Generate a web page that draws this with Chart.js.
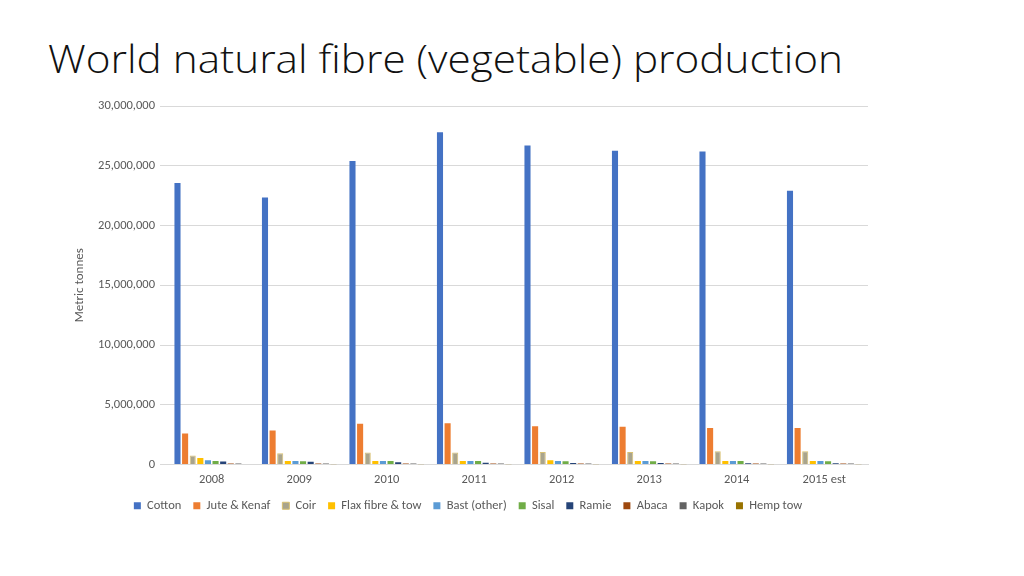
<!DOCTYPE html>
<html>
<head>
<meta charset="utf-8">
<script src="https://cdn.jsdelivr.net/npm/chart.js@4"></script>
<style>
  html, body { margin: 0; padding: 0; background: #fff; }
  #title {
    position: absolute; left: 48px; top: 31px;
    font-family: 'Open Sans', sans-serif; font-weight: 300;
    font-size: 39px; color: #111; white-space: nowrap;
    transform-origin: left top;
  }
  #wrap { position: absolute; left: 0; top: 0; width: 1024px; height: 576px; }
</style>
</head>
<body>
<div id="title">World natural fibre (vegetable) production</div>
<div id="wrap"><canvas id="chart"></canvas></div>
<script>
// ---- data (metric tonnes) ----
const years   = ['2008', '2009', '2010', '2011', '2012', '2013', '2014', '2015 est'];
const cotton  = [23550000, 22350000, 25400000, 27800000, 26700000, 26250000, 26200000, 22900000];
const jute    = [2600000, 2850000, 3400000, 3450000, 3200000, 3150000, 3050000, 3050000];
const coir    = [750000, 950000, 1000000, 1000000, 1050000, 1050000, 1100000, 1100000];
const flax    = [550000, 300000, 300000, 300000, 350000, 300000, 300000, 300000];
const bast    = [350000, 300000, 300000, 300000, 300000, 300000, 300000, 300000];
const sisal   = [300000, 280000, 300000, 300000, 280000, 280000, 300000, 280000];
const ramie   = [250000, 230000, 180000, 150000, 120000, 120000, 110000, 110000];
const abaca   = [90000, 80000, 80000, 90000, 90000, 80000, 80000, 80000];
const kapok   = [90000, 90000, 90000, 90000, 90000, 90000, 90000, 90000];
const hempTow = [40000, 30000, 30000, 30000, 30000, 30000, 30000, 30000];

const COLORS = {
  cotton: '#4472c4', jute: '#ed7d31', coir: '#a9a48c', flax: '#ffc000',
  bast: '#5b9bd5', sisal: '#70ad47', ramie: '#264478', abaca: '#9e480e',
  kapok: '#636363', hemp: '#997300',
  text: '#595959', grid: '#d9d9d9',
};

// fit title width to reference
const t = document.getElementById('title');
t.style.transform = 'scaleX(' + (795 / t.getBoundingClientRect().width) + ')';

Chart.defaults.font.family = "Calibri, Carlito, 'Open Sans', sans-serif";
Chart.defaults.color = COLORS.text;

const ds = (label, data, color, border) => ({
  label, data,
  backgroundColor: color,
  borderColor: border || color,
  borderWidth: border ? 1 : 0,
  barPercentage: 0.8,
  categoryPercentage: 0.87,
});

new Chart(document.getElementById('chart'), {
  type: 'bar',
  data: {
    labels: years,
    datasets: [
      ds('Cotton', cotton, COLORS.cotton),
      ds('Jute & Kenaf', jute, COLORS.jute),
      ds('Coir', coir, COLORS.coir, '#d8c070'),
      ds('Flax fibre & tow', flax, COLORS.flax),
      ds('Bast (other)', bast, COLORS.bast),
      ds('Sisal', sisal, COLORS.sisal),
      ds('Ramie', ramie, COLORS.ramie),
      ds('Abaca', abaca, COLORS.abaca),
      ds('Kapok', kapok, COLORS.kapok),
      ds('Hemp tow', hempTow, COLORS.hemp),
    ],
  },
  options: {
    responsive: true,
    maintainAspectRatio: false,
    animation: false,
    layout: { padding: { left: 68, right: 156, top: 106, bottom: 54 } },
    plugins: {
      legend: {
        position: 'bottom',
        labels: { boxWidth: 7, boxHeight: 7, padding: 12, font: { size: 12.5 }, color: COLORS.text },
      },
      tooltip: { enabled: false },
    },
    scales: {
      x: {
        grid: { display: false },
        border: { color: COLORS.grid },
        ticks: { font: { size: 12.5 }, maxRotation: 0, padding: 0 },
      },
      y: {
        min: 0, max: 30000000,
        ticks: {
          stepSize: 5000000,
          font: { size: 12.5 },
          padding: 5,
          callback: v => v.toLocaleString('en-US'),
        },
        grid: { color: COLORS.grid },
        border: { display: false },
        title: { display: true, text: 'Metric tonnes', font: { size: 13 }, color: COLORS.text },
        afterFit: s => { s.width = 100; },
      },
    },
  },
});
</script>
</body>
</html>
